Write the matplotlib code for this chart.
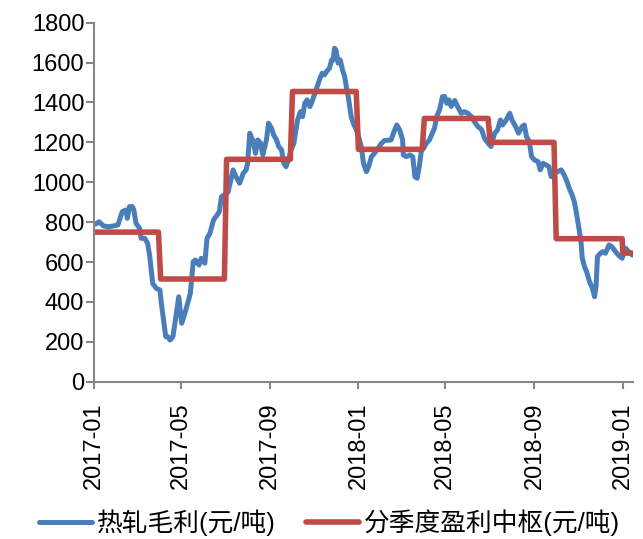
import numpy as np
import pandas as pd
import matplotlib
matplotlib.use('Agg')
import matplotlib.pyplot as plt

plt.rcParams['font.family'] = ['Liberation Sans', 'Noto Sans CJK SC', 'DejaVu Sans']
plt.rcParams['axes.unicode_minus'] = False

BLUE = '#4A7EBB'
RED = '#BE4B48'
AXIS_GREY = '#868686'

# 热轧毛利 (元/吨)
margin_dates = [
    '2017-01-03', '2017-01-08', '2017-01-14', '2017-01-21', '2017-01-28', '2017-02-03',
    '2017-02-09', '2017-02-14', '2017-02-16', '2017-02-19', '2017-02-23', '2017-02-25',
    '2017-02-28', '2017-03-05', '2017-03-07', '2017-03-12', '2017-03-16', '2017-03-19',
    '2017-03-21', '2017-03-23', '2017-03-28', '2017-04-02', '2017-04-04', '2017-04-07',
    '2017-04-10', '2017-04-13', '2017-04-16', '2017-04-20', '2017-04-24', '2017-04-28',
    '2017-05-02', '2017-05-05', '2017-05-09', '2017-05-14', '2017-05-18', '2017-05-21',
    '2017-05-26', '2017-05-29', '2017-06-03', '2017-06-06', '2017-06-10', '2017-06-15',
    '2017-06-20', '2017-06-23', '2017-06-26', '2017-07-05', '2017-07-12', '2017-07-16',
    '2017-07-21', '2017-07-26', '2017-07-30', '2017-08-01', '2017-08-04', '2017-08-08',
    '2017-08-12', '2017-08-15', '2017-08-19', '2017-08-22', '2017-08-27', '2017-08-30',
    '2017-09-03', '2017-09-06', '2017-09-10', '2017-09-13', '2017-09-17', '2017-09-20',
    '2017-09-23', '2017-09-27', '2017-09-30', '2017-10-04', '2017-10-06', '2017-10-09',
    '2017-10-13', '2017-10-16', '2017-10-19', '2017-10-22', '2017-10-26', '2017-10-29',
    '2017-11-02', '2017-11-05', '2017-11-09', '2017-11-12', '2017-11-15', '2017-11-18',
    '2017-11-22', '2017-11-25', '2017-11-27', '2017-11-29', '2017-12-01', '2017-12-04',
    '2017-12-07', '2017-12-10', '2017-12-13', '2017-12-16', '2017-12-18', '2017-12-22',
    '2017-12-25', '2017-12-31', '2018-01-05', '2018-01-08', '2018-01-12', '2018-01-15',
    '2018-01-19', '2018-01-23', '2018-01-28', '2018-02-02', '2018-02-06', '2018-02-15',
    '2018-02-20', '2018-02-23', '2018-02-27', '2018-03-03', '2018-03-04', '2018-03-08',
    '2018-03-13', '2018-03-17', '2018-03-20', '2018-03-23', '2018-03-26', '2018-03-29',
    '2018-04-01', '2018-04-05', '2018-04-09', '2018-04-13', '2018-04-16', '2018-04-19',
    '2018-04-23', '2018-04-27', '2018-04-30', '2018-05-03', '2018-05-06', '2018-05-09',
    '2018-05-14', '2018-05-18', '2018-05-23', '2018-05-27', '2018-06-01', '2018-06-06',
    '2018-06-10', '2018-06-15', '2018-06-20', '2018-06-24', '2018-06-29', '2018-07-03',
    '2018-07-08', '2018-07-12', '2018-07-16', '2018-07-19', '2018-07-24', '2018-07-29',
    '2018-08-01', '2018-08-06', '2018-08-10', '2018-08-15', '2018-08-18', '2018-08-21',
    '2018-08-25', '2018-08-28', '2018-09-01', '2018-09-06', '2018-09-09', '2018-09-13',
    '2018-09-17', '2018-09-21', '2018-09-24', '2018-09-29', '2018-10-03', '2018-10-08',
    '2018-10-12', '2018-10-16', '2018-10-19', '2018-10-23', '2018-10-26', '2018-10-29',
    '2018-11-01', '2018-11-04', '2018-11-06', '2018-11-09', '2018-11-12', '2018-11-16',
    '2018-11-20', '2018-11-23', '2018-11-25', '2018-11-27', '2018-12-01', '2018-12-04',
    '2018-12-08', '2018-12-13', '2018-12-17', '2018-12-22', '2018-12-26', '2018-12-31',
    '2019-01-05', '2019-01-09', '2019-01-14',
]
margin_values = [
    790, 802, 781, 777, 781, 786,
    853, 861, 819, 878, 878, 861,
    794, 769, 719, 719, 694, 627,
    560, 493, 468, 460, 393, 309,
    226, 226, 209, 226, 326, 426,
    293, 326, 376, 443, 602, 610,
    585, 619, 594, 719, 744, 811,
    836, 853, 928, 950, 1062, 1028,
    995, 1045, 1062, 1095, 1246, 1212,
    1145, 1212, 1196, 1137, 1212, 1296,
    1271, 1237, 1212, 1179, 1162, 1095,
    1078, 1120, 1162, 1196, 1246, 1312,
    1354, 1329, 1396, 1413, 1379, 1404,
    1446, 1479, 1522, 1547, 1538, 1555,
    1572, 1613, 1613, 1672, 1663, 1597,
    1613, 1563, 1530, 1463, 1429, 1329,
    1296, 1246, 1179, 1095, 1053, 1078,
    1128, 1145, 1170, 1196, 1209, 1212,
    1262, 1287, 1262, 1212, 1137, 1128,
    1137, 1128, 1028, 1020, 1078, 1162,
    1170, 1196, 1212, 1246, 1271, 1329,
    1363, 1429, 1430, 1396, 1413, 1380,
    1410, 1379, 1346, 1354, 1346, 1329,
    1304, 1279, 1264, 1221, 1196, 1179,
    1246, 1262, 1312, 1287, 1312, 1346,
    1312, 1279, 1246, 1279, 1287, 1229,
    1204, 1128, 1112, 1103, 1062, 1095,
    1087, 1078, 1028, 1053, 1053, 1062,
    1037, 1003, 970, 936, 903, 845,
    777, 711, 620, 577, 552, 502,
    468, 426, 476, 627, 644, 652,
    644, 686, 677, 652, 635, 619,
    669, 652, 635,
]

# 分季度盈利中枢 (元/吨)
quarters = ['2017Q1', '2017Q2', '2017Q3', '2017Q4', '2018Q1',
            '2018Q2', '2018Q3', '2018Q4', '2019Q1']
pivot_values = [750, 515, 1115, 1455, 1165, 1320, 1200, 717, 645]

tick_labels = ['2017-01', '2017-05', '2017-09', '2018-01', '2018-05', '2018-09', '2019-01']

margin = pd.Series(margin_values, index=pd.to_datetime(margin_dates))

# 季度中枢展开到交易日
days = pd.bdate_range('2017-01-02', '2019-01-14')
q_map = dict(zip(pd.PeriodIndex(quarters, freq='Q'), pivot_values))
pivot = pd.Series([q_map[d.to_period('Q')] for d in days], index=days)

fig = plt.figure(figsize=(6.43, 5.39), dpi=100)
ax = fig.add_axes([0.1462, 0.2918, 0.8382, 0.6661])

ax.plot(margin.index, margin.values, color=BLUE, lw=3.6,
        solid_joinstyle='round', solid_capstyle='round', label='热轧毛利(元/吨)')
ax.plot(pivot.index, pivot.values, color=RED, lw=4.0,
        solid_joinstyle='round', solid_capstyle='round', label='分季度盈利中枢(元/吨)')

ax.set_ylim(0, 1800)
ax.set_yticks(np.arange(0, 1801, 200))
ax.set_xlim(pd.Timestamp('2017-01-01'), pd.Timestamp('2019-01-15'))
ax.set_xticks(pd.to_datetime([t + '-01' for t in tick_labels]))
ax.set_xticklabels(tick_labels, rotation=90, va='top', ha='center')

for side in ['top', 'right']:
    ax.spines[side].set_visible(False)
for side in ['left', 'bottom']:
    ax.spines[side].set_color(AXIS_GREY)
    ax.spines[side].set_linewidth(1.5)

ax.tick_params(axis='y', direction='out', length=6, width=1.5, color=AXIS_GREY,
               labelsize=17, pad=1)
ax.tick_params(axis='x', direction='out', length=5, width=1.5, color=AXIS_GREY,
               labelsize=17, pad=10)

fig.legend(loc='center', bbox_to_anchor=(0.513, 0.03), ncol=2, frameon=False,
           prop={'family': ['Liberation Sans', 'Noto Sans CJK SC'], 'size': 18.5},
           handlelength=2.06, handletextpad=0.2, columnspacing=1.17)

plt.savefig('out.png', dpi=100)
plt.close()
